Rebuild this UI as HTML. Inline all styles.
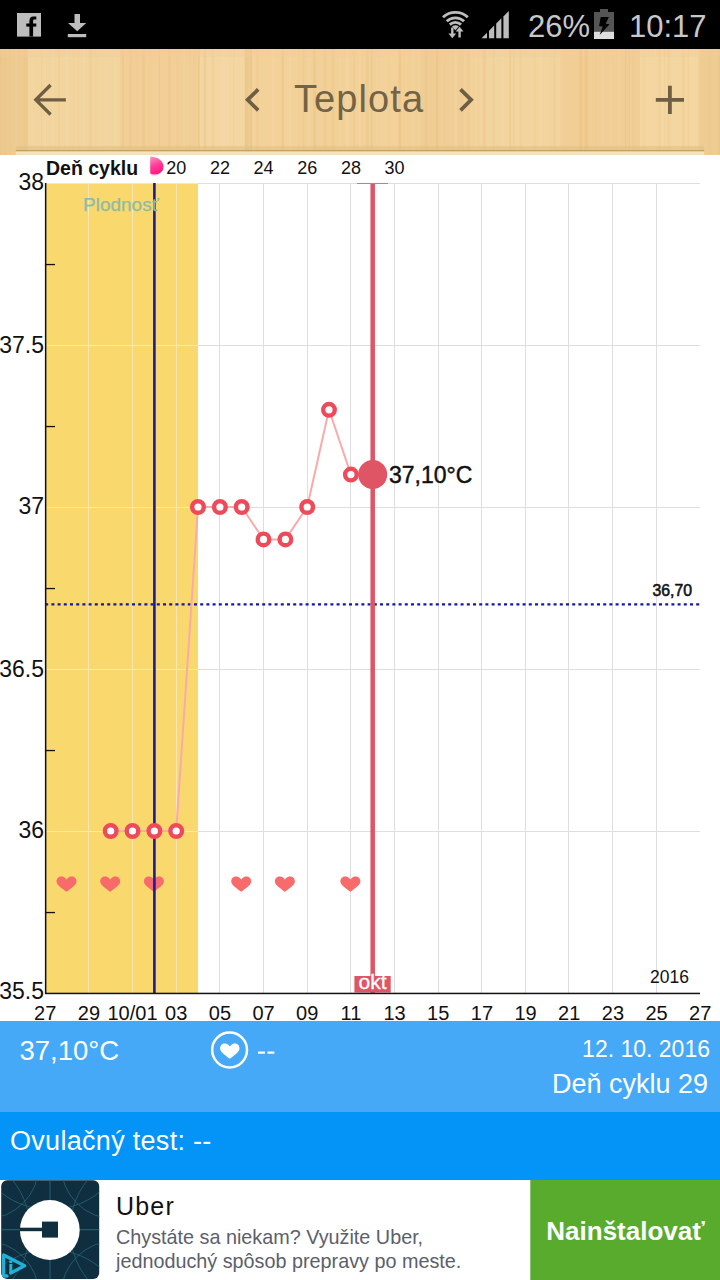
<!DOCTYPE html>
<html><head><meta charset="utf-8">
<style>
*{margin:0;padding:0;box-sizing:border-box}
html,body{width:720px;height:1280px;overflow:hidden;background:#fff;font-family:"Liberation Sans",sans-serif}
.abs{position:absolute;white-space:nowrap}
#tool{position:absolute;left:0;top:49px;width:720px;height:106px;
background:
linear-gradient(90deg, rgba(255,240,200,0) 0px, rgba(255,240,200,.25) 40px, rgba(200,150,80,0) 80px, rgba(210,160,90,.15) 130px, rgba(255,240,200,.2) 180px, rgba(200,150,80,.12) 250px, rgba(255,240,200,.25) 330px, rgba(200,150,80,.15) 420px, rgba(255,240,200,.25) 480px, rgba(200,150,80,.1) 560px, rgba(255,240,200,.25) 620px, rgba(200,150,80,.12) 700px),
#EFCB90}
#toolline{position:absolute;left:15px;top:150px;width:689px;height:2px;background:#B99055}
.yl{position:absolute;left:-56px;width:100px;text-align:right;font-size:23px;line-height:28px;color:#111}
.xl{position:absolute;top:1000.5px;width:80px;text-align:center;font-size:20px;line-height:24px;color:#111}
.cl{position:absolute;top:156px;width:60px;text-align:center;font-size:18px;line-height:24px;color:#111}
</style></head><body>
<svg class="abs" style="left:0;top:0" width="720" height="1280" viewBox="0 0 720 1280">
<rect x="0" y="0" width="720" height="49" fill="#000"/>
<rect x="17" y="13" width="24" height="23.6" fill="#BDBDBD"/>
<path d="M29.4,36.6 V21 C29.4,17.8 31,16.4 33.5,16.4 H36.3 V19.4 H34.5 C33.4,19.4 33.1,19.9 33.1,20.8 V36.6 Z" fill="#000"/>
<rect x="26.3" y="23.5" width="10" height="3.1" fill="#000"/>
<path d="M74.5,14 H80 V23 H86.2 L77.25,31.3 L68,23 H74.5 Z" fill="#BDBDBD"/>
<rect x="67.8" y="34" width="18.4" height="3.2" fill="#BDBDBD"/>
<path d="M442.99,17.29 A18.2,18.2 0 0 1 467.81,17.29" stroke="#BDBDBD" stroke-width="2.9" fill="none"/>
<path d="M446.74,21.31 A12.7,12.7 0 0 1 464.06,21.31" stroke="#BDBDBD" stroke-width="2.9" fill="none"/>
<path d="M449.81,24.60 A8.2,8.2 0 0 1 460.99,24.60" stroke="#BDBDBD" stroke-width="2.9" fill="none"/>
<path d="M452,26.6 A5.2,5.2 0 0 1 458.8,26.6 L455.4,30.2 Z" fill="#BDBDBD"/>
<path d="M451.1,27.5 H453.5 V33.6 H456.2 L452.3,38.3 L448.4,33.6 H451.1 Z" fill="#BDBDBD"/>
<path d="M458.4,37.6 H460.8 V31.5 H463.5 L459.6,26.8 L455.7,31.5 H458.4 Z" fill="#BDBDBD"/>
<path d="M481.5,38.2 L481.5,38.20 L487,32.72 L487,38.2 Z" fill="#BDBDBD"/>
<path d="M489,38.2 L489,30.73 L494.2,25.55 L494.2,38.2 Z" fill="#BDBDBD"/>
<path d="M496.2,38.2 L496.2,23.55 L501.4,18.37 L501.4,38.2 Z" fill="#BDBDBD"/>
<path d="M503.4,38.2 L503.4,16.38 L508.8,11.00 L508.8,38.2 Z" fill="#BDBDBD"/>
<rect x="600" y="9" width="8" height="3.2" fill="#555"/>
<rect x="594" y="12" width="20" height="20" fill="#555"/>
<rect x="594" y="31.8" width="20" height="7.2" fill="#DDD"/>
<path d="M600.7,17 L608.8,17 L605.7,23.7 L609.6,24.3 L599.6,35.1 L602.7,26.8 L599.1,25.9 Z" fill="#000"/>
<rect x="0" y="49" width="720" height="106" fill="#F3D29A"/>
<rect x="0" y="49" width="28" height="106" fill="#E6C385" opacity="0.45"/>
<rect x="28" y="49" width="92" height="106" fill="#F2D7A2" opacity="0.5"/>
<rect x="120" y="49" width="80" height="106" fill="#EDCC8F" opacity="0.35"/>
<rect x="200" y="49" width="50" height="106" fill="#F3DAA8" opacity="0.5"/>
<rect x="245" y="49" width="7" height="106" fill="#E2BC7C" opacity="0.5"/>
<rect x="300" y="49" width="80" height="106" fill="#EECF95" opacity="0.4"/>
<rect x="420" y="49" width="50" height="106" fill="#E9C78A" opacity="0.35"/>
<rect x="480" y="49" width="80" height="106" fill="#F2D6A1" opacity="0.5"/>
<rect x="560" y="49" width="80" height="106" fill="#EBC98C" opacity="0.35"/>
<rect x="640" y="49" width="60" height="106" fill="#F3D9A6" opacity="0.5"/>
<rect x="700" y="49" width="20" height="106" fill="#E9C889" opacity="0.45"/>
<rect x="0.0" y="49" width="1.7" height="106" fill="#E3B470" opacity="0.18"/>
<rect x="3.5" y="49" width="3.0" height="106" fill="#EABE7C" opacity="0.17"/>
<rect x="8.5" y="49" width="2.2" height="106" fill="#EABE7C" opacity="0.12"/>
<rect x="15.3" y="49" width="1.4" height="106" fill="#FADFB6" opacity="0.18"/>
<rect x="24.4" y="49" width="1.1" height="106" fill="#E3B470" opacity="0.23"/>
<rect x="31.5" y="49" width="1.0" height="106" fill="#FADFB6" opacity="0.18"/>
<rect x="41.2" y="49" width="0.9" height="106" fill="#E3B470" opacity="0.16"/>
<rect x="44.7" y="49" width="1.1" height="106" fill="#F8DEB0" opacity="0.21"/>
<rect x="52.5" y="49" width="1.1" height="106" fill="#FADFB6" opacity="0.23"/>
<rect x="57.9" y="49" width="2.3" height="106" fill="#EABE7C" opacity="0.21"/>
<rect x="66.3" y="49" width="2.1" height="106" fill="#FADFB6" opacity="0.19"/>
<rect x="72.3" y="49" width="2.4" height="106" fill="#EFC789" opacity="0.17"/>
<rect x="78.0" y="49" width="1.3" height="106" fill="#E3B470" opacity="0.12"/>
<rect x="83.1" y="49" width="2.1" height="106" fill="#F8DEB0" opacity="0.25"/>
<rect x="88.8" y="49" width="3.4" height="106" fill="#EABE7C" opacity="0.20"/>
<rect x="95.0" y="49" width="1.7" height="106" fill="#EFC789" opacity="0.18"/>
<rect x="105.5" y="49" width="1.0" height="106" fill="#FADFB6" opacity="0.21"/>
<rect x="114.5" y="49" width="1.6" height="106" fill="#F8DEB0" opacity="0.22"/>
<rect x="122.0" y="49" width="2.0" height="106" fill="#EABE7C" opacity="0.29"/>
<rect x="129.1" y="49" width="2.6" height="106" fill="#EABE7C" opacity="0.25"/>
<rect x="135.5" y="49" width="2.4" height="106" fill="#EFC789" opacity="0.16"/>
<rect x="142.3" y="49" width="2.6" height="106" fill="#EABE7C" opacity="0.29"/>
<rect x="149.1" y="49" width="2.4" height="106" fill="#EFC789" opacity="0.11"/>
<rect x="158.8" y="49" width="1.1" height="106" fill="#E3B470" opacity="0.18"/>
<rect x="168.3" y="49" width="2.1" height="106" fill="#E3B470" opacity="0.19"/>
<rect x="176.1" y="49" width="3.2" height="106" fill="#EFC789" opacity="0.27"/>
<rect x="182.8" y="49" width="1.9" height="106" fill="#F8DEB0" opacity="0.24"/>
<rect x="189.1" y="49" width="1.4" height="106" fill="#EABE7C" opacity="0.14"/>
<rect x="193.8" y="49" width="1.4" height="106" fill="#EFC789" opacity="0.27"/>
<rect x="198.1" y="49" width="1.6" height="106" fill="#E3B470" opacity="0.18"/>
<rect x="203.9" y="49" width="2.3" height="106" fill="#E3B470" opacity="0.24"/>
<rect x="211.6" y="49" width="2.5" height="106" fill="#EABE7C" opacity="0.19"/>
<rect x="222.1" y="49" width="3.4" height="106" fill="#FADFB6" opacity="0.18"/>
<rect x="230.0" y="49" width="1.1" height="106" fill="#EFC789" opacity="0.11"/>
<rect x="233.1" y="49" width="1.4" height="106" fill="#E3B470" opacity="0.12"/>
<rect x="240.4" y="49" width="1.1" height="106" fill="#FADFB6" opacity="0.13"/>
<rect x="243.8" y="49" width="1.8" height="106" fill="#EABE7C" opacity="0.11"/>
<rect x="248.6" y="49" width="1.8" height="106" fill="#F8DEB0" opacity="0.29"/>
<rect x="256.4" y="49" width="2.1" height="106" fill="#EABE7C" opacity="0.27"/>
<rect x="267.5" y="49" width="2.1" height="106" fill="#EFC789" opacity="0.16"/>
<rect x="272.1" y="49" width="2.8" height="106" fill="#F8DEB0" opacity="0.20"/>
<rect x="281.6" y="49" width="2.2" height="106" fill="#E3B470" opacity="0.29"/>
<rect x="289.3" y="49" width="1.2" height="106" fill="#FADFB6" opacity="0.28"/>
<rect x="297.7" y="49" width="1.6" height="106" fill="#EABE7C" opacity="0.24"/>
<rect x="302.7" y="49" width="1.8" height="106" fill="#E3B470" opacity="0.17"/>
<rect x="307.7" y="49" width="2.3" height="106" fill="#FADFB6" opacity="0.17"/>
<rect x="313.1" y="49" width="3.0" height="106" fill="#E3B470" opacity="0.26"/>
<rect x="323.7" y="49" width="2.8" height="106" fill="#E3B470" opacity="0.14"/>
<rect x="331.7" y="49" width="2.8" height="106" fill="#EABE7C" opacity="0.26"/>
<rect x="339.5" y="49" width="1.3" height="106" fill="#FADFB6" opacity="0.29"/>
<rect x="345.7" y="49" width="3.3" height="106" fill="#F8DEB0" opacity="0.29"/>
<rect x="353.3" y="49" width="1.4" height="106" fill="#E3B470" opacity="0.19"/>
<rect x="358.7" y="49" width="2.1" height="106" fill="#FADFB6" opacity="0.27"/>
<rect x="365.9" y="49" width="2.6" height="106" fill="#EABE7C" opacity="0.27"/>
<rect x="370.9" y="49" width="1.8" height="106" fill="#E3B470" opacity="0.20"/>
<rect x="375.6" y="49" width="2.9" height="106" fill="#F8DEB0" opacity="0.12"/>
<rect x="387.1" y="49" width="2.7" height="106" fill="#EFC789" opacity="0.18"/>
<rect x="398.4" y="49" width="2.8" height="106" fill="#E3B470" opacity="0.30"/>
<rect x="402.9" y="49" width="2.4" height="106" fill="#EFC789" opacity="0.26"/>
<rect x="407.9" y="49" width="3.0" height="106" fill="#EFC789" opacity="0.23"/>
<rect x="415.1" y="49" width="2.3" height="106" fill="#E3B470" opacity="0.10"/>
<rect x="424.8" y="49" width="2.8" height="106" fill="#EABE7C" opacity="0.21"/>
<rect x="436.1" y="49" width="2.0" height="106" fill="#E3B470" opacity="0.27"/>
<rect x="441.2" y="49" width="1.5" height="106" fill="#F8DEB0" opacity="0.20"/>
<rect x="449.9" y="49" width="1.7" height="106" fill="#FADFB6" opacity="0.18"/>
<rect x="454.0" y="49" width="3.3" height="106" fill="#F8DEB0" opacity="0.28"/>
<rect x="463.8" y="49" width="3.0" height="106" fill="#FADFB6" opacity="0.18"/>
<rect x="475.1" y="49" width="2.2" height="106" fill="#FADFB6" opacity="0.13"/>
<rect x="482.6" y="49" width="3.2" height="106" fill="#E3B470" opacity="0.22"/>
<rect x="493.1" y="49" width="1.2" height="106" fill="#E3B470" opacity="0.19"/>
<rect x="501.2" y="49" width="2.3" height="106" fill="#F8DEB0" opacity="0.24"/>
<rect x="509.0" y="49" width="2.1" height="106" fill="#EABE7C" opacity="0.28"/>
<rect x="513.0" y="49" width="1.3" height="106" fill="#EABE7C" opacity="0.25"/>
<rect x="519.7" y="49" width="2.3" height="106" fill="#EABE7C" opacity="0.19"/>
<rect x="528.1" y="49" width="2.2" height="106" fill="#FADFB6" opacity="0.14"/>
<rect x="533.8" y="49" width="2.2" height="106" fill="#EFC789" opacity="0.20"/>
<rect x="539.4" y="49" width="2.2" height="106" fill="#F8DEB0" opacity="0.28"/>
<rect x="549.8" y="49" width="1.3" height="106" fill="#EFC789" opacity="0.13"/>
<rect x="553.5" y="49" width="2.0" height="106" fill="#EABE7C" opacity="0.23"/>
<rect x="560.2" y="49" width="1.4" height="106" fill="#F8DEB0" opacity="0.26"/>
<rect x="569.8" y="49" width="1.2" height="106" fill="#F8DEB0" opacity="0.13"/>
<rect x="579.2" y="49" width="3.4" height="106" fill="#E3B470" opacity="0.25"/>
<rect x="584.8" y="49" width="3.2" height="106" fill="#E3B470" opacity="0.30"/>
<rect x="595.7" y="49" width="1.2" height="106" fill="#EFC789" opacity="0.30"/>
<rect x="601.5" y="49" width="1.9" height="106" fill="#F8DEB0" opacity="0.16"/>
<rect x="610.3" y="49" width="0.9" height="106" fill="#FADFB6" opacity="0.19"/>
<rect x="618.0" y="49" width="1.8" height="106" fill="#FADFB6" opacity="0.22"/>
<rect x="625.1" y="49" width="1.0" height="106" fill="#E3B470" opacity="0.29"/>
<rect x="628.4" y="49" width="1.5" height="106" fill="#EABE7C" opacity="0.28"/>
<rect x="632.8" y="49" width="2.8" height="106" fill="#EFC789" opacity="0.27"/>
<rect x="642.2" y="49" width="3.4" height="106" fill="#EFC789" opacity="0.13"/>
<rect x="653.9" y="49" width="2.3" height="106" fill="#F8DEB0" opacity="0.12"/>
<rect x="658.2" y="49" width="2.7" height="106" fill="#EFC789" opacity="0.28"/>
<rect x="664.4" y="49" width="0.8" height="106" fill="#EABE7C" opacity="0.26"/>
<rect x="667.4" y="49" width="3.1" height="106" fill="#EABE7C" opacity="0.15"/>
<rect x="672.9" y="49" width="0.8" height="106" fill="#FADFB6" opacity="0.18"/>
<rect x="682.1" y="49" width="2.5" height="106" fill="#EABE7C" opacity="0.21"/>
<rect x="687.9" y="49" width="1.1" height="106" fill="#E3B470" opacity="0.15"/>
<rect x="691.8" y="49" width="3.3" height="106" fill="#F8DEB0" opacity="0.21"/>
<rect x="698.2" y="49" width="2.0" height="106" fill="#E3B470" opacity="0.15"/>
<rect x="707.7" y="49" width="3.5" height="106" fill="#EABE7C" opacity="0.10"/>
<rect x="718.2" y="49" width="2.3" height="106" fill="#E3B470" opacity="0.20"/>
<rect x="0" y="49" width="720" height="8" fill="#F5C8A0" opacity="0.35"/>
<rect x="15.8" y="146" width="688.4" height="4" fill="#E0BC80" opacity="0.5"/>
<rect x="15.8" y="150" width="688.4" height="1.5" fill="#C99F5C"/>
<rect x="15.8" y="151.5" width="688.4" height="3.3" fill="#F4E2C4"/>
<path d="M65.9,99.8 H36 M50.6,85 L35.8,99.8 L50.6,114.5" stroke="#6E5E44" stroke-width="3.3" fill="none"/>
<path d="M258.2,89.4 L247.6,99.8 L258.2,110.3" stroke="#6E5E44" stroke-width="3.8" fill="none"/>
<path d="M460.5,89.4 L471.1,99.8 L460.5,110.3" stroke="#6E5E44" stroke-width="3.8" fill="none"/>
<path d="M655.8,99.8 H684 M669.9,85.7 V113.9" stroke="#6E5E44" stroke-width="3.8" fill="none"/>
<rect x="45.2" y="183.0" width="152.8" height="810.0" fill="#F9D96D"/>
<rect x="88" y="183" width="1" height="810" fill="#FCE6B4"/>
<rect x="132" y="183" width="1" height="810" fill="#FCE6B4"/>
<rect x="176" y="183" width="1" height="810" fill="#FCE6B4"/>
<rect x="219" y="183" width="1" height="810" fill="#DEDEDE"/>
<rect x="263" y="183" width="1" height="810" fill="#DEDEDE"/>
<rect x="307" y="183" width="1" height="810" fill="#DEDEDE"/>
<rect x="350" y="183" width="1" height="810" fill="#DEDEDE"/>
<rect x="394" y="183" width="1" height="810" fill="#DEDEDE"/>
<rect x="438" y="183" width="1" height="810" fill="#DEDEDE"/>
<rect x="481" y="183" width="1" height="810" fill="#DEDEDE"/>
<rect x="525" y="183" width="1" height="810" fill="#DEDEDE"/>
<rect x="568" y="183" width="1" height="810" fill="#DEDEDE"/>
<rect x="612" y="183" width="1" height="810" fill="#DEDEDE"/>
<rect x="656" y="183" width="1" height="810" fill="#DEDEDE"/>
<rect x="45" y="183" width="153" height="1" fill="#FCE6B4"/>
<rect x="198" y="183" width="502" height="1" fill="#DEDEDE"/>
<rect x="45" y="345" width="153" height="1" fill="#FCE6B4"/>
<rect x="198" y="345" width="502" height="1" fill="#DEDEDE"/>
<rect x="45" y="507" width="153" height="1" fill="#FCE6B4"/>
<rect x="198" y="507" width="502" height="1" fill="#DEDEDE"/>
<rect x="45" y="669" width="153" height="1" fill="#FCE6B4"/>
<rect x="198" y="669" width="502" height="1" fill="#DEDEDE"/>
<rect x="45" y="831" width="153" height="1" fill="#FCE6B4"/>
<rect x="198" y="831" width="502" height="1" fill="#DEDEDE"/>
<rect x="45" y="263.9" width="10" height="1.3" fill="#111"/>
<rect x="45" y="425.9" width="10" height="1.3" fill="#111"/>
<rect x="45" y="587.9" width="10" height="1.3" fill="#111"/>
<rect x="45" y="749.9" width="10" height="1.3" fill="#111"/>
<rect x="45" y="911.9" width="10" height="1.3" fill="#111"/>
<path transform="translate(66.5,876.6)" d="M0,3 C-1.5,0.5 -4,0 -5.5,0 C-8.5,0 -10,2.5 -10,5 C-10,8.5 -5,11.5 0,15.25 C5,11.5 10,8.5 10,5 C10,2.5 8.5,0 5.5,0 C4,0 1.5,0.5 0,3 Z" fill="#F86B6B"/>
<path transform="translate(110.2,876.6)" d="M0,3 C-1.5,0.5 -4,0 -5.5,0 C-8.5,0 -10,2.5 -10,5 C-10,8.5 -5,11.5 0,15.25 C5,11.5 10,8.5 10,5 C10,2.5 8.5,0 5.5,0 C4,0 1.5,0.5 0,3 Z" fill="#F86B6B"/>
<path transform="translate(153.9,876.6)" d="M0,3 C-1.5,0.5 -4,0 -5.5,0 C-8.5,0 -10,2.5 -10,5 C-10,8.5 -5,11.5 0,15.25 C5,11.5 10,8.5 10,5 C10,2.5 8.5,0 5.5,0 C4,0 1.5,0.5 0,3 Z" fill="#F86B6B"/>
<path transform="translate(241.2,876.6)" d="M0,3 C-1.5,0.5 -4,0 -5.5,0 C-8.5,0 -10,2.5 -10,5 C-10,8.5 -5,11.5 0,15.25 C5,11.5 10,8.5 10,5 C10,2.5 8.5,0 5.5,0 C4,0 1.5,0.5 0,3 Z" fill="#F86B6B"/>
<path transform="translate(284.9,876.6)" d="M0,3 C-1.5,0.5 -4,0 -5.5,0 C-8.5,0 -10,2.5 -10,5 C-10,8.5 -5,11.5 0,15.25 C5,11.5 10,8.5 10,5 C10,2.5 8.5,0 5.5,0 C4,0 1.5,0.5 0,3 Z" fill="#F86B6B"/>
<path transform="translate(350.4,876.6)" d="M0,3 C-1.5,0.5 -4,0 -5.5,0 C-8.5,0 -10,2.5 -10,5 C-10,8.5 -5,11.5 0,15.25 C5,11.5 10,8.5 10,5 C10,2.5 8.5,0 5.5,0 C4,0 1.5,0.5 0,3 Z" fill="#F86B6B"/>
<line x1="45.2" y1="604.3" x2="700.2" y2="604.3" stroke="#1616A8" stroke-width="2.2" stroke-dasharray="3 3.2"/>
<line x1="154.4" y1="183.0" x2="154.4" y2="993.0" stroke="#1B1B9C" stroke-width="2.6"/>
<polyline points="110.7,831.0 132.5,831.0 154.4,831.0 176.2,831.0 198.0,507.0 219.9,507.0 241.7,507.0 263.5,539.4 285.4,539.4 307.2,507.0 329.0,409.8 350.9,474.6 372.7,474.6" fill="none" stroke="#F9ABAB" stroke-width="2"/>
<line x1="372.7" y1="183.0" x2="372.7" y2="993.0" stroke="#DE5566" stroke-width="4.5"/>
<rect x="354.4" y="976" width="36.3" height="16.5" fill="#DE5566"/>
<circle cx="110.7" cy="831.0" r="5.8" fill="#fff" stroke="#EF4A5A" stroke-width="4.4"/>
<circle cx="132.5" cy="831.0" r="5.8" fill="#fff" stroke="#EF4A5A" stroke-width="4.4"/>
<circle cx="154.4" cy="831.0" r="5.8" fill="#fff" stroke="#EF4A5A" stroke-width="4.4"/>
<circle cx="176.2" cy="831.0" r="5.8" fill="#fff" stroke="#EF4A5A" stroke-width="4.4"/>
<circle cx="198.0" cy="507.0" r="5.8" fill="#fff" stroke="#EF4A5A" stroke-width="4.4"/>
<circle cx="219.9" cy="507.0" r="5.8" fill="#fff" stroke="#EF4A5A" stroke-width="4.4"/>
<circle cx="241.7" cy="507.0" r="5.8" fill="#fff" stroke="#EF4A5A" stroke-width="4.4"/>
<circle cx="263.5" cy="539.4" r="5.8" fill="#fff" stroke="#EF4A5A" stroke-width="4.4"/>
<circle cx="285.4" cy="539.4" r="5.8" fill="#fff" stroke="#EF4A5A" stroke-width="4.4"/>
<circle cx="307.2" cy="507.0" r="5.8" fill="#fff" stroke="#EF4A5A" stroke-width="4.4"/>
<circle cx="329.0" cy="409.8" r="5.8" fill="#fff" stroke="#EF4A5A" stroke-width="4.4"/>
<circle cx="350.9" cy="474.6" r="5.8" fill="#fff" stroke="#EF4A5A" stroke-width="4.4"/>
<circle cx="372.7" cy="474.6" r="14.5" fill="#E05565"/>
<rect x="44.9" y="183" width="1.5" height="811" fill="#111"/>
<rect x="45" y="992.7" width="655" height="1.5" fill="#111"/>
<rect x="357" y="183" width="31" height="1" fill="#A08C8C"/>
<defs><linearGradient id="dg" x1="0" y1="0" x2="0.3" y2="1"><stop offset="0" stop-color="#FF99C8"/><stop offset="0.55" stop-color="#FF3D96"/><stop offset="1" stop-color="#FF1A80"/></linearGradient></defs>
<path d="M150.2,156.4 C156.5,156.4 163.6,160.5 163.6,166.5 C163.6,172 158.5,175 153.5,175 C151.5,175 150.2,174 150.2,172.5 Z" fill="url(#dg)"/>
<path d="M150.6,174.3 C152,175.3 156,175.6 159,174.2" stroke="#FFC8E2" stroke-width="1.2" fill="none"/>
<rect x="0" y="1021" width="720" height="91" fill="#45A9F7"/>
<rect x="0" y="1112" width="720" height="68" fill="#0493F7"/>
<circle cx="229.6" cy="1050" r="17.4" fill="none" stroke="#fff" stroke-width="2.5"/>
<path transform="translate(229.8,1043.6) scale(0.97,1.0)" d="M0,3 C-1.5,0.5 -4,0 -5.5,0 C-8.5,0 -10,2.5 -10,5 C-10,8.5 -5,11.5 0,15.25 C5,11.5 10,8.5 10,5 C10,2.5 8.5,0 5.5,0 C4,0 1.5,0.5 0,3 Z" fill="#fff"/>
<rect x="258" y="1051.5" width="7" height="2.2" fill="#fff"/><rect x="267.4" y="1051.5" width="7" height="2.2" fill="#fff"/>
<rect x="0" y="1180" width="720" height="100" fill="#fff"/>
<rect x="530.3" y="1180" width="189.7" height="100" fill="#58AB2C"/>
<defs><clipPath id="uc"><rect x="1.2" y="1180.3" width="98" height="98.6" rx="6"/></clipPath></defs>
<g clip-path="url(#uc)"><rect x="0" y="1180" width="100" height="100" fill="#0F2F40"/>
<line x1="50" y1="1180" x2="50" y2="1280" stroke="#245A6A" stroke-width="1.2"/><line x1="0" y1="1229.6" x2="100" y2="1229.6" stroke="#245A6A" stroke-width="1.2"/>
<circle cx="-15" cy="1165" r="54" fill="none" stroke="#245A6A" stroke-width="1"/>
<circle cx="115" cy="1165" r="54" fill="none" stroke="#245A6A" stroke-width="1"/>
<circle cx="-15" cy="1295" r="54" fill="none" stroke="#245A6A" stroke-width="1"/>
<circle cx="115" cy="1295" r="54" fill="none" stroke="#245A6A" stroke-width="1"/>
<circle cx="-49" cy="1229.6" r="79" fill="none" stroke="#245A6A" stroke-width="1"/>
<circle cx="149" cy="1229.6" r="79" fill="none" stroke="#245A6A" stroke-width="1"/>
<circle cx="50" cy="1130.6" r="79" fill="none" stroke="#245A6A" stroke-width="1"/>
<circle cx="50" cy="1328.6" r="79" fill="none" stroke="#245A6A" stroke-width="1"/>
<circle cx="49.8" cy="1230" r="29.9" fill="#fff"/>
<rect x="42" y="1221.6" width="16" height="16" fill="#0F2F40"/>
<rect x="19.5" y="1227.7" width="23" height="3.5" fill="#0F2F40"/>
<path d="M7,1276 L3.6,1276 L3.6,1255 L24.6,1265.8 L10.8,1273" fill="none" stroke="#1FB0DA" stroke-width="3.3" stroke-linejoin="round" stroke-linecap="round"/>
<rect x="9.3" y="1264" width="3" height="9.5" fill="#1FB8D0"/><rect x="9.3" y="1260.5" width="3" height="2.6" fill="#1FB8D0"/>
</g>
</svg>
<div class="abs" style="left:528px;top:9px;font-size:31px;line-height:36px;color:#C8C8C8">26%</div>
<div class="abs" style="left:629px;top:8.5px;font-size:31px;line-height:36px;color:#C8C8C8">10:17</div>
<div class="abs" style="left:294px;top:76px;font-size:38px;letter-spacing:1.1px;line-height:46px;color:#736347">Teplota</div>
<div class="yl" style="top:168.3px">38</div>
<div class="yl" style="top:331.2px">37.5</div>
<div class="yl" style="top:491.8px">37</div>
<div class="yl" style="top:655.2px">36.5</div>
<div class="yl" style="top:815.9px">36</div>
<div class="yl" style="top:976.8px">35.5</div>

<div class="xl" style="left:5.2px">27</div>
<div class="xl" style="left:48.9px">29</div>
<div class="xl" style="left:92.5px">10/01</div>
<div class="xl" style="left:136.2px">03</div>
<div class="xl" style="left:179.9px">05</div>
<div class="xl" style="left:223.5px">07</div>
<div class="xl" style="left:267.2px">09</div>
<div class="xl" style="left:310.9px">11</div>
<div class="xl" style="left:354.5px">13</div>
<div class="xl" style="left:398.2px">15</div>
<div class="xl" style="left:441.9px">17</div>
<div class="xl" style="left:485.5px">19</div>
<div class="xl" style="left:529.2px">21</div>
<div class="xl" style="left:572.9px">23</div>
<div class="xl" style="left:616.5px">25</div>
<div class="xl" style="left:660.2px">27</div>

<div class="cl" style="left:146.2px">20</div>
<div class="cl" style="left:189.9px">22</div>
<div class="cl" style="left:233.5px">24</div>
<div class="cl" style="left:277.2px">26</div>
<div class="cl" style="left:320.9px">28</div>
<div class="cl" style="left:364.5px">30</div>

<div class="abs" style="left:46px;top:156px;font-size:19.5px;font-weight:bold;line-height:24px;color:#111">Deň cyklu</div>
<div class="abs" style="left:83px;top:193px;font-size:19px;line-height:24px;color:#8DBBA6;-webkit-text-stroke:0.25px #8DBBA6">Plodnosť</div>
<div class="abs" style="left:389px;top:461px;font-size:23px;line-height:28px;color:#111;-webkit-text-stroke:0.45px #111">37,10°C</div>
<div class="abs" style="left:652.5px;top:580.5px;font-size:15.8px;line-height:20px;color:#111;-webkit-text-stroke:0.55px #111">36,70</div>
<div class="abs" style="left:650px;top:966px;font-size:17.5px;line-height:22px;color:#111">2016</div>
<div class="abs" style="left:353px;top:970px;width:39px;text-align:center;font-size:21px;line-height:24px;color:#fff;-webkit-text-stroke:0.3px #fff">okt</div>
<div class="abs" style="left:19.5px;top:1033.5px;font-size:27.5px;line-height:34px;color:#fff">37,10°C</div>
<div class="abs" style="left:554px;top:1035px;width:156px;text-align:right;font-size:23px;line-height:28px;color:#fff">12. 10. 2016</div>
<div class="abs" style="left:500px;top:1067.5px;width:208px;text-align:right;font-size:27px;line-height:32px;color:#fff">Deň cyklu 29</div>
<div class="abs" style="left:10px;top:1125px;font-size:27px;letter-spacing:0.3px;line-height:32px;color:#fff">Ovulačný test: --</div>
<div class="abs" style="left:530px;top:1214.5px;width:191px;text-align:center;font-size:26px;font-weight:bold;line-height:32px;color:#fff">Nainštalovať</div>
<div class="abs" style="left:116px;top:1190.5px;font-size:25px;letter-spacing:1.2px;line-height:30px;color:#111">Uber</div>
<div class="abs" style="left:116px;top:1225px;font-size:19.8px;line-height:24px;color:#5B606B">Chystáte sa niekam? Využite Uber,<br>jednoduchý spôsob prepravy po meste.</div>
</body></html>
